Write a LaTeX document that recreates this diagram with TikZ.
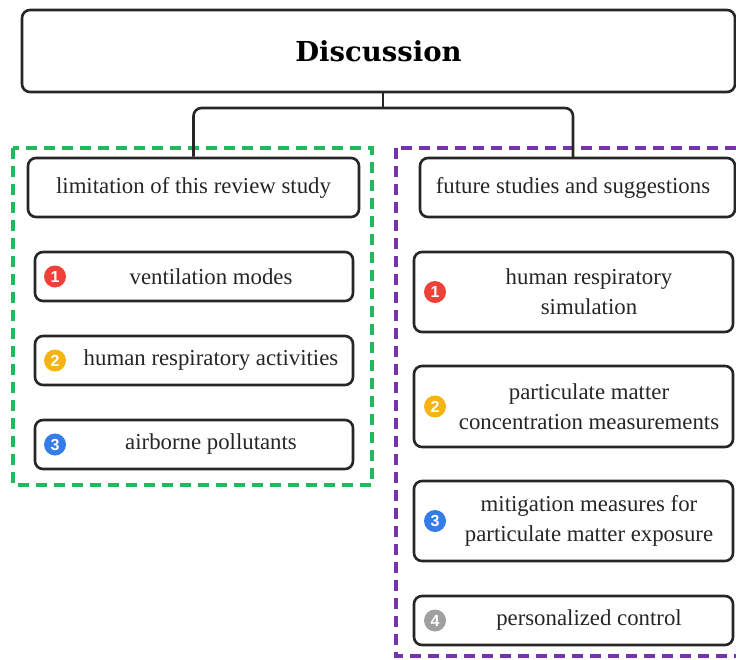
\documentclass[tikz,border=0pt]{standalone}
\usepackage{fontspec}
\setmainfont{Liberation Serif}
\setsansfont{Liberation Sans}
\newfontfamily\headfont{DejaVu Serif}
\usetikzlibrary{positioning, calc}

\definecolor{grpgreen}{RGB}{34,184,92}
\definecolor{grppurple}{RGB}{118,52,172}
\definecolor{numred}{RGB}{238,66,56}
\definecolor{numyellow}{RGB}{246,180,18}
\definecolor{numblue}{RGB}{52,124,234}
\definecolor{numgray}{RGB}{160,160,160}

\tikzset{
    box/.style={draw=black!85, line width=2.6pt, rounded corners=8pt, fill=white, inner sep=0pt},
    txt/.style={font=\fontsize{22.8}{30}\selectfont, align=center, text=black!85},
    num/.style={circle, fill=#1, text=white, inner sep=0pt, minimum size=22pt, font=\sffamily\bfseries\fontsize{16}{16}\selectfont},
    conn/.style={draw=black!85, line width=2.6pt, rounded corners=8pt},
    grp/.style={dash pattern=on 11pt off 7pt, line width=3.2pt}
}

\begin{document}
\begin{tikzpicture}[x=1pt, y=-1pt]
        \clip (0,0) rectangle (736,659);
        \fill[white] (0,0) rectangle (736,659);

        % dashed groups
        \draw[grp, grpgreen] (13,148) rectangle (372,485);
        \draw[grp, grppurple] (396,148) rectangle (760,656);

        % top box
        \node[box, minimum width=713pt, minimum height=82pt, font=\headfont\bfseries\fontsize{27.5}{30}\selectfont] (disc) at (378.5,51) {Discussion};

        % headers
        \node[box, minimum width=331pt, minimum height=59pt, txt] (lhead) at (193.5,187.5) {limitation of this review study};
        \node[box, minimum width=315pt, minimum height=59pt] (rhead) at (577.5,187.5) {};
        \node[txt] (rheadtxt) at (573,187.5) {future studies and suggestions};

        \coordinate (split) at (383,108);
        \coordinate (rtop) at (573,158);
        \draw[conn] (disc.south -| split) -- (split);
        \draw[conn] (lhead.north) |- (split) -| (rtop);

        % left items
        \node[box, minimum width=318pt, minimum height=49pt] (l1) at (194,276.5) {};
        \node[box, minimum width=318pt, minimum height=49pt] (l2) at (194,360.5) {};
        \node[box, minimum width=318pt, minimum height=49pt] (l3) at (194,444.5) {};

        \node[num=numred] (l1n) at (55,276.5) {1};
        \node[num=numyellow] (l2n) at (55,360.5) {2};
        \node[num=numblue] (l3n) at (55,444.5) {3};

        \node[txt] (l1t) at (211,276.5) {ventilation modes};
        \node[txt] (l2t) at (211,360.5) {human respiratory activities};
        \node[txt] (l3t) at (211,444.5) {airborne pollutants};

        % right items
        \node[box, minimum width=319pt, minimum height=80pt] (r1) at (573.5,292) {};
        \node[box, minimum width=319pt, minimum height=81pt] (r2) at (573.5,406.5) {};
        \node[box, minimum width=319pt, minimum height=80pt] (r3) at (573.5,521) {};
        \node[box, minimum width=319pt, minimum height=49pt] (r4) at (573.5,620.5) {};

        \node[num=numred] (r1n) at (435,292) {1};
        \node[num=numyellow] (r2n) at (435,406.5) {2};
        \node[num=numblue] (r3n) at (435,521) {3};
        \node[num=numgray] (r4n) at (435,620.5) {4};

        \node[txt] (r1t) at (589,292) {human respiratory\\simulation};
        \node[txt] (r2t) at (589,406.5) {particulate matter\\concentration measurements};
        \node[txt] (r3t) at (589,521) {mitigation measures for\\particulate matter exposure};
        \node[txt] (r4t) at (589,620.5) {personalized control};

\end{tikzpicture}
\end{document}
